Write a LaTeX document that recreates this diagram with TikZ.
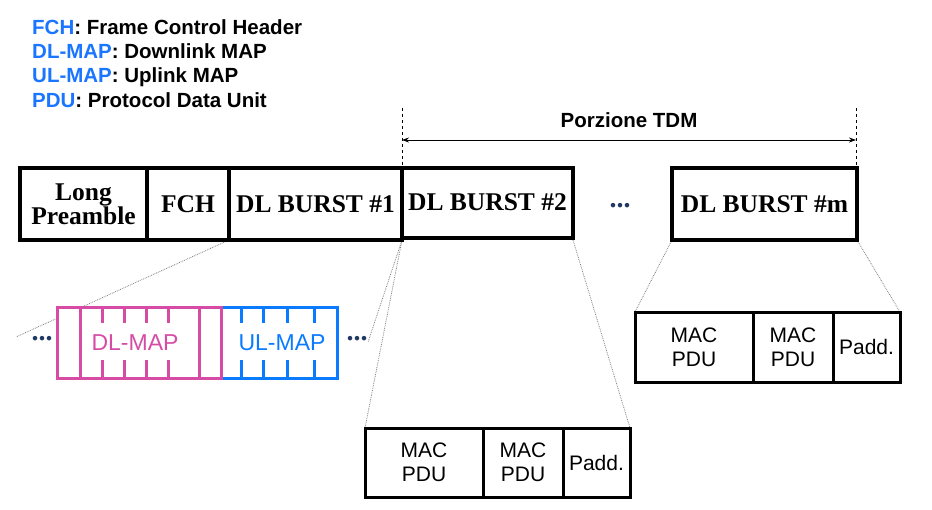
\documentclass[tikz,border=0pt]{standalone}
\usepackage{fontspec}
\setmainfont{Liberation Serif}
\setsansfont{Liberation Sans}
\usetikzlibrary{arrows.meta}
\definecolor{lgblue}{RGB}{26,117,255}
\definecolor{mapblue}{RGB}{10,122,255}
\definecolor{mappink}{RGB}{214,76,165}
\definecolor{dotblue}{RGB}{31,56,100}
\begin{document}
\begin{tikzpicture}[x=1pt,y=-1pt,
  frame/.style={draw, line width=4pt, fill=white, inner sep=0pt, minimum height=72pt,
    font=\fontsize{25.5}{27}\selectfont\bfseries, align=center},
  pdubox/.style={draw, line width=3pt, fill=white, inner sep=0pt, minimum height=69pt,
    font=\sffamily\fontsize{21}{24}\selectfont, align=center},
  legend/.style={anchor=base west, inner sep=0pt, font=\sffamily\bfseries\fontsize{20.5}{24}\selectfont},
  zoomline/.style={draw=gray, densely dotted, line width=0.8pt},
  guide/.style={draw=black, dashed, line width=0.6pt},
  dots/.style={text=dotblue, font=\bfseries\fontsize{28}{28}\selectfont, inner sep=0pt},
  maptext/.style={font=\sffamily\fontsize{23}{24}\selectfont, inner sep=0pt}
]
\useasboundingbox (0,0) rectangle (932,509);

% legend
\node[legend] (l1) at (32,34)  {\textcolor{lgblue}{FCH}: Frame Control Header};
\node[legend] (l2) at (32,58)  {\textcolor{lgblue}{DL-MAP}: Downlink MAP};
\node[legend] (l3) at (32,82)  {\textcolor{lgblue}{UL-MAP}: Uplink MAP};
\node[legend] (l4) at (32,107) {\textcolor{lgblue}{PDU}: Protocol Data Unit};

% TDM portion marker
\coordinate (tl) at (402,108);
\coordinate (tr) at (856,108);
\coordinate (al) at (402,140);
\coordinate (ar) at (856,140);
\draw[guide] (tl) -- (402,168);
\draw[guide] (tr) -- (856,168);
\draw[line width=0.8pt, {Stealth[length=7pt,width=5pt]}-{Stealth[length=7pt,width=5pt]}] (al) -- (ar)
  node[midway, above=9pt, font=\sffamily\bfseries\fontsize{20.5}{22}\selectfont] (tdm) {Porzione TDM};

% zoom lines (drawn first so boxes cover them)
\coordinate (ldot) at (16,337);
\coordinate (b1sw) at (229,240);
\coordinate (b1se) at (402,240);
\draw[zoomline] (b1sw) -- (ldot);
\draw[zoomline] (b1se) -- (368,342);
\draw[zoomline] (b1se) -- (365,428);
\draw[zoomline] (573,240) -- (630,428);
\draw[zoomline] (672,240) -- (635,312);
\draw[zoomline] (857,240) -- (900,312);

% top frame
\node[frame, minimum width=127pt] (lp)  at (83.5,204) {Long\\[-3pt]Preamble};
\node[frame, minimum width=82pt]  (fch) at (188,204)  {FCH};
\node[frame, minimum width=173pt] (b1)  at (315.5,204) {DL BURST \#1};
\node[frame, minimum width=171pt, minimum height=70pt] (b2) at (487.5,203) {\raisebox{2pt}{DL BURST \#2}};
\node[frame, minimum width=185pt] (bm)  at (764.5,204) {DL BURST \#m};
\node[dots] (d1) at (620,206) {...};

% MAP strip
\fill[white] (57,307) rectangle (337,378);
\draw[mapblue, line width=3pt] (221,307) rectangle (337,378);
\foreach \x in {241,263,287,314} {
  \draw[mapblue, line width=3pt] (\x,307) -- (\x,323);
  \draw[mapblue, line width=3pt] (\x,360) -- (\x,378);
}
\draw[mappink, line width=3pt] (57,307) rectangle (221,378);
\draw[mappink, line width=3pt] (80,307) -- (80,378);
\draw[mappink, line width=3pt] (199,307) -- (199,378);
\foreach \x in {102,124,146,168} {
  \draw[mappink, line width=3pt] (\x,307) -- (\x,323);
  \draw[mappink, line width=3pt] (\x,360) -- (\x,378);
}
\node[maptext, text=mappink] (dlmap) at (135,343) {DL-MAP};
\node[maptext, text=mapblue] (ulmap) at (282,343) {UL-MAP};
\node[dots] (d2) at (42,339) {...};
\node[dots] (d3) at (357,339) {...};

% PDU boxes under burst #2
\node[pdubox, minimum width=118pt] (m1) at (424,462.5) {MAC\\PDU};
\node[pdubox, minimum width=80pt]  (m2) at (523,462.5) {MAC\\PDU};
\node[pdubox, minimum width=67pt]  (p1) at (596.5,462.5) {Padd.};

% PDU boxes under burst #m
\node[pdubox, minimum width=118pt, minimum height=70pt] (m3) at (694,347) {MAC\\PDU};
\node[pdubox, minimum width=80pt, minimum height=70pt]  (m4) at (793,347) {MAC\\PDU};
\node[pdubox, minimum width=67pt, minimum height=70pt]  (p2) at (866.5,347) {Padd.};
\end{tikzpicture}
\end{document}
